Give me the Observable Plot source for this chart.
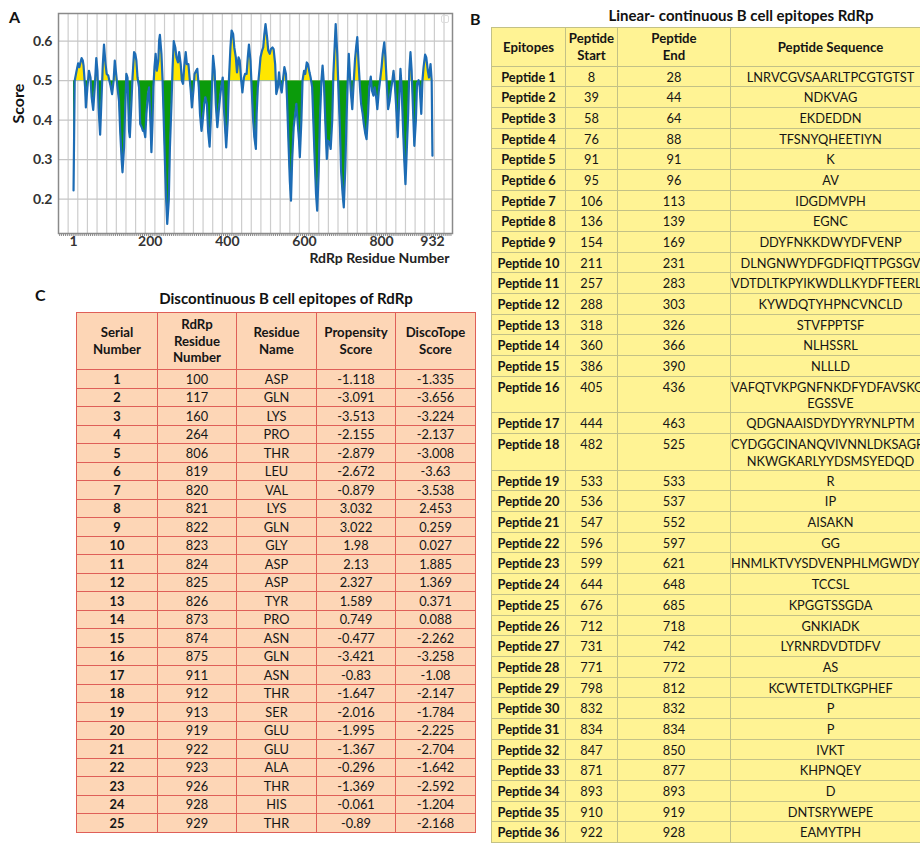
<!DOCTYPE html>
<html>
<head>
<meta charset="utf-8">
<script src="https://cdn.jsdelivr.net/npm/d3@7"></script>
<script src="https://cdn.jsdelivr.net/npm/@observablehq/plot@0.6"></script>
<style>
html, body { margin: 0; padding: 0; background: #fff; }
#page { position: relative; width: 920px; height: 843px; overflow: hidden; font-family: Lato, "Open Sans", sans-serif; color: #111; }
.lbl { position: absolute; font-weight: bold; font-size: 16px; line-height: 1; }
.ttl { position: absolute; font-weight: bold; font-size: 15px; white-space: nowrap; transform: translate(-50%, -50%); line-height: 1; }
#chartA { position: absolute; left: 0; top: 0; }
#icon { position: absolute; left: 441px; top: 15px; width: 6px; height: 6px; border: 1px solid #dcdcdc; border-radius: 2px; }
table { position: absolute; border-collapse: collapse; table-layout: fixed; }
#tabB { left: 491px; top: 27px; width: 439px; background: #fff394; }
#tabB th, #tabB td { border: 1.5px solid #c3c186; text-align: center; padding: 0; font-size: 12.8px; overflow: hidden; white-space: pre; line-height: 16.5px; color: #151515; }
#tabB th { height: 37.5px; vertical-align: middle; font-weight: bold; font-size: 13.2px; }
#tabB td { vertical-align: top; padding-top: 2px; }
#tabB tr.sgl td { height: 17.7px; }
#tabB tr.dbl td { height: 33.6px; }
#tabB td.ep { font-weight: bold; }
#tabC { left: 76px; top: 311.5px; width: 399px; background: #fdd6b6; }
#tabC th, #tabC td { border: 1px solid #df5f58; text-align: center; padding: 0; font-size: 12.8px; white-space: pre; line-height: 16.5px; color: #151515; }
#tabC th { height: 56.5px; vertical-align: middle; font-weight: bold; font-size: 13.2px; }
#tabC td { height: 17.5px; vertical-align: middle; }
#tabC td.sn { font-weight: bold; }
</style>
</head>
<body>
<div id="page">
  <div id="chartA"></div>
  <div id="icon"></div>
</div>
<script>
// ---------- Panel A data: BepiPred score along the RdRp sequence ----------
const residue = [
  1,4,9,13,16,18,22,25,27,31,
  33,37,41,45,48,52,56,60,63,66,
  70,73,77,80,84,87,91,94,97,101,
  105,108,112,115,119,122,126,128,132,135,
  138,141,145,147,151,154,158,161,164,167,
  171,174,178,181,184,187,190,194,197,201,
  203,206,208,211,214,217,221,223,225,229,
  232,235,238,241,244,248,251,255,258,261,
  265,268,272,275,279,282,285,288,292,295,
  299,302,305,308,312,315,319,322,326,329,
  333,336,340,343,347,350,354,357,361,363,
  367,370,374,377,381,384,388,391,395,397,
  401,404,408,411,415,418,422,425,429,432,
  436,439,443,446,450,453,456,460,463,467,
  470,474,476,479,483,486,490,493,496,499,
  503,506,510,513,517,520,524,527,531,534,
  538,541,545,548,552,555,559,562,565,568,
  572,575,579,582,586,588,592,595,599,602,
  606,609,613,616,620,623,626,630,633,637,
  640,644,647,651,654,658,661,665,668,672,
  675,679,681,685,688,692,695,699,702,706,
  709,713,715,720,724,727,731,734,737,740,
  744,747,751,754,758,761,765,768,772,775,
  779,782,786,789,793,796,800,803,807,810,
  814,817,821,824,828,831,835,838,842,845,
  849,852,855,859,862,865,869,872,875,878,
  882,885,889,892,896,899,903,906,909,913,
  916,920,923,927,930,932
];
const score = [
  .222,.50,.525,.544,.534,.542,.557,.551,.538,.483,
  .432,.483,.525,.508,.458,.426,.483,.557,.525,.432,
  .363,.441,.542,.591,.542,.517,.513,.50,.487,.466,
  .50,.551,.513,.483,.449,.373,.297,.268,.331,.432,
  .517,.508,.373,.357,.441,.508,.572,.568,.551,.508,
  .483,.39,.382,.373,.373,.357,.416,.466,.483,.382,
  .319,.399,.483,.534,.568,.525,.551,.601,.616,.568,
  .50,.399,.297,.205,.137,.196,.331,.441,.534,.60,
  .584,.559,.546,.572,.542,.50,.492,.534,.572,.542,
  .542,.508,.475,.432,.475,.517,.525,.53,.483,.416,
  .373,.399,.441,.458,.441,.373,.333,.399,.508,.563,
  .525,.441,.382,.416,.458,.483,.508,.432,.365,.331,
  .399,.50,.584,.627,.618,.584,.559,.521,.559,.551,
  .50,.47,.508,.517,.517,.559,.591,.551,.483,.399,
  .357,.327,.416,.483,.525,.559,.576,.584,.618,.643,
  .61,.576,.568,.58,.584,.58,.542,.466,.483,.521,
  .483,.47,.508,.534,.517,.449,.331,.247,.196,.297,
  .382,.407,.441,.399,.348,.306,.399,.50,.525,.517,
  .546,.542,.521,.508,.483,.399,.314,.213,.171,.272,
  .399,.50,.538,.483,.399,.302,.348,.344,.327,.399,
  .517,.601,.643,.568,.483,.382,.272,.213,.179,.281,
  .399,.525,.568,.475,.428,.483,.551,.584,.61,.551,
  .483,.441,.416,.39,.365,.352,.416,.483,.51,.475,
  .462,.483,.458,.428,.475,.50,.534,.568,.597,.559,
  .483,.428,.449,.475,.50,.525,.483,.432,.357,.432,
  .53,.483,.399,.297,.238,.314,.416,.525,.572,.525,
  .416,.335,.399,.492,.501,.483,.416,.50,.534,.566,
  .559,.525,.508,.542,.50,.31
];
const threshold = 0.5;
const xTickLabels = [1, 200, 400, 600, 800, 932];
const yTickValues = [0.2, 0.3, 0.4, 0.5, 0.6];

// ---------- Panel B data: linear epitopes ----------
const peptideStart = [8,39,58,76,91,95,106,136,154,211,257,288,318,360,386,405,444,482,533,536,547,596,599,644,676,712,731,771,798,832,834,847,871,893,910,922];
const peptideEnd   = [28,44,64,88,91,96,113,139,169,231,283,303,326,366,390,436,463,525,533,537,552,597,621,648,685,718,742,772,812,832,834,850,877,893,919,928];
const peptideSeq = [
  "LNRVCGVSAARLTPCGTGTST","NDKVAG","EKDEDDN","TFSNYQHEETIYN","K","AV","IDGDMVPH","EGNC",
  "DDYFNKKDWYDFVENP","DLNGNWYDFGDFIQTTPGSGV","VDTDLTKPYIKWDLLKYDFTEERLKLF","KYWDQTYHPNCVNCLD",
  "STVFPPTSF","NLHSSRL","NLLLD","VAFQTVKPGNFNKDFYDFAVSKGFFK\nEGSSVE","QDGNAAISDYDYYRYNLPTM",
  "CYDGGCINANQVIVNNLDKSAGFPF\nNKWGKARLYYDSMSYEDQD","R","IP","AISAKN","GG","HNMLKTVYSDVENPHLMGWDYPK",
  "TCCSL","KPGGTSSGDA","GNKIADK","LYRNRDVDTDFV","AS","KCWTETDLTKGPHEF","P","P","IVKT","KHPNQEY","D",
  "DNTSRYWEPE","EAMYTPH"
];
const headerB = ["Epitopes", "Peptide\nStart", "Peptide\nEnd", "Peptide Sequence"];

// ---------- Panel C data: discontinuous epitopes ----------
const residueNumber = [100,117,160,264,806,819,820,821,822,823,824,825,826,873,874,875,911,912,913,919,922,923,926,928,929];
const residueName = ["ASP","GLN","LYS","PRO","THR","LEU","VAL","LYS","GLN","GLY","ASP","ASP","TYR","PRO","ASN","GLN","ASN","THR","SER","GLU","GLU","ALA","THR","HIS","THR"];
const propensity = [-1.118,-3.091,-3.513,-2.155,-2.879,-2.672,-0.879,3.032,3.022,1.98,2.13,2.327,1.589,0.749,-0.477,-3.421,-0.83,-1.647,-2.016,-1.995,-1.367,-0.296,-1.369,-0.061,-0.89];
const discotope = [-1.335,-3.656,-3.224,-2.137,-3.008,-3.63,-3.538,2.453,0.259,0.027,1.885,1.369,0.371,0.088,-2.262,-3.258,-1.08,-2.147,-1.784,-2.225,-2.704,-1.642,-2.592,-1.204,-2.168];
const headerC = ["Serial\nNumber", "RdRp\nResidue\nNumber", "Residue\nName", "Propensity\nScore", "DiscoTope\nScore"];

// ---------- Panel A ----------
const series = residue.map((r, i) => ({r, v: score[i]}));
const W = 460, H = 265;
const gridLines = d3.range(-13, 984, 25);
const minorTicks = d3.range(-35, 984, 5);
const chart = Plot.plot({
  width: W, height: H,
  marginLeft: 58, marginRight: 8, marginTop: 13, marginBottom: 32,
  style: {fontFamily: "Lato, sans-serif", fontSize: "14px", fontWeight: "bold", color: "#333", background: "transparent"},
  x: {domain: [-38, 984], axis: null},
  y: {domain: [0.113, 0.67], axis: null},
  marks: [
    Plot.ruleX(gridLines, {stroke: "#cdcdcd", strokeWidth: 1.2}),
    Plot.ruleY(yTickValues, {stroke: "#c6c6c6", strokeWidth: 1.2}),
    Plot.areaY(series, {x: "r", y1: threshold, y2: "v", fill: "#ffe600"}),
    Plot.areaY(series, {x: "r", y1: threshold, y2: "v", fill: "#0b9b0b"}),
    Plot.lineY(series, {x: "r", y: "v", stroke: "#1d6cb5", strokeWidth: 2.2}),
    Plot.frame({stroke: "#8a8a8a", strokeWidth: 1.5}),
    Plot.axisX({ticks: minorTicks, tickSize: 3, tickFormat: () => "", stroke: "#8a8a8a", label: null}),
    Plot.axisX({ticks: xTickLabels, tickSize: 0, tickPadding: 2.5, label: null}),
    Plot.axisY({ticks: yTickValues, tickSize: 0, tickPadding: 6, tickFormat: ".1f", label: null}),
    Plot.text(["Score"], {frameAnchor: "left", dx: -40, rotate: -90, fontSize: 16, fontWeight: "bold", fill: "#111"}),
    Plot.text(["RdRp Residue Number"], {frameAnchor: "bottom-right", dx: -3, dy: 25, textAnchor: "end", lineAnchor: "middle", fontSize: 14, fontWeight: "bold", fill: "#222"})
  ]
});
// split the fill at the threshold: yellow above, green below
const y0 = chart.scale("y").apply(threshold);
const svgSel = d3.select(chart);
const defs = svgSel.insert("defs", ":first-child");
defs.append("clipPath").attr("id", "clipAbove").append("rect").attr("x", 0).attr("y", 0).attr("width", W).attr("height", y0);
defs.append("clipPath").attr("id", "clipBelow").append("rect").attr("x", 0).attr("y", y0).attr("width", W).attr("height", H - y0);
const areas = chart.querySelectorAll('g[aria-label="area"]');
if (areas.length >= 2) {
  areas[0].setAttribute("clip-path", "url(#clipAbove)");
  areas[1].setAttribute("clip-path", "url(#clipBelow)");
}
document.getElementById("chartA").appendChild(chart);

const page = d3.select("#page");
page.append("div").attr("class", "lbl").style("left", "9px").style("top", "9px").text("A");
page.append("div").attr("class", "lbl").style("left", "470px").style("top", "11px").text("B");
page.append("div").attr("class", "lbl").style("left", "35px").style("top", "287px").text("C");
page.append("div").attr("class", "ttl").style("left", "741px").style("top", "15px").text("Linear- continuous B cell epitopes RdRp");
page.append("div").attr("class", "ttl").style("left", "286px").style("top", "298px").text("Discontinuous B cell epitopes of RdRp");

// ---------- Panel B table ----------
const tb = page.append("table").attr("id", "tabB");
const cgB = tb.append("colgroup");
[74, 52, 113, 200].forEach(w => cgB.append("col").style("width", w + "px"));
const hB = tb.append("tr");
headerB.forEach(t => hB.append("th").text(t));
peptideSeq.forEach((s, i) => {
  const tr = tb.append("tr").attr("class", s.includes("\n") ? "dbl" : "sgl");
  tr.append("td").attr("class", "ep").text("Peptide " + (i + 1));
  tr.append("td").text(peptideStart[i]);
  tr.append("td").text(peptideEnd[i]);
  tr.append("td").text(s);
});

// ---------- Panel C table ----------
const tc = page.append("table").attr("id", "tabC");
const cgC = tc.append("colgroup");
[81, 79, 80, 79, 80].forEach(w => cgC.append("col").style("width", w + "px"));
const hC = tc.append("tr");
headerC.forEach(t => hC.append("th").text(t));
residueNumber.forEach((n, i) => {
  const tr = tc.append("tr");
  tr.append("td").attr("class", "sn").text(i + 1);
  tr.append("td").text(n);
  tr.append("td").text(residueName[i]);
  tr.append("td").text(String(propensity[i]));
  tr.append("td").text(String(discotope[i]));
});
</script>
</body>
</html>
